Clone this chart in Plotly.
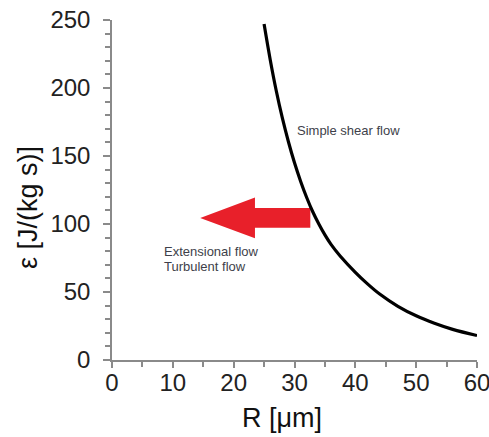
import plotly.graph_objects as go

# Curve data
R_um = [25, 26, 27, 28, 29, 30, 31, 32, 33, 34, 35, 36, 37.5, 40, 42, 44, 47, 50, 53, 56, 60]
eps = [247, 221, 198, 178, 160.5, 145, 131.5, 119.5, 109, 100, 92, 85, 76.5, 64.5, 56, 48.5, 39.5, 32.5, 27, 22.5, 18]

# Arrow outline (data coordinates)
arrow_x = [14.5, 23.5, 23.5, 32.6, 32.6, 23.5, 23.5, 14.5]
arrow_y = [104.4, 119.5, 111.8, 111.8, 97.2, 97.2, 89.5, 104.4]

# Labels
x_ticks = [0, 10, 20, 30, 40, 50, 60]
y_ticks = [0, 50, 100, 150, 200, 250]
x_title = "R [μm]"
y_title = "ε [J/(kg s)]"

FONT = "Arial, 'Liberation Sans', sans-serif"
AXC = "#8a8a8a"

fig = go.Figure()
fig.add_trace(go.Scatter(x=arrow_x, y=arrow_y, mode="lines", fill="toself",
                         fillcolor="#e8202a", line=dict(color="#e8202a", width=0),
                         hoverinfo="skip", showlegend=False))
fig.add_trace(go.Scatter(x=R_um, y=eps, mode="lines", line=dict(color="black", width=3.2, shape="spline"),
                         showlegend=False, cliponaxis=False))

txtc = "#3e3f4a"
fig.add_annotation(x=30.1, y=169, text="Simple shear flow", showarrow=False, xanchor="left",
                   font=dict(family=FONT, size=13, color=txtc))
fig.add_annotation(x=8.2, y=79.5, text="Extensional flow", showarrow=False, xanchor="left",
                   font=dict(family=FONT, size=13, color=txtc))
fig.add_annotation(x=8.2, y=68.5, text="Turbulent flow", showarrow=False, xanchor="left",
                   font=dict(family=FONT, size=13, color=txtc))

# Axis titles as annotations for exact placement
fig.add_annotation(xref="paper", yref="paper", x=-0.23, y=0.447, text=y_title, textangle=-90,
                   showarrow=False, xanchor="center", yanchor="middle",
                   font=dict(family=FONT, size=27, color="#111"))
fig.add_annotation(xref="paper", yref="paper", x=0.466, y=-0.17, text=x_title,
                   showarrow=False, xanchor="center", yanchor="middle",
                   font=dict(family=FONT, size=27, color="#111"))

fig.update_xaxes(range=[0, 60], tickvals=x_ticks, ticks="outside", ticklen=6, tickwidth=1.5,
                 tickcolor=AXC, showline=True, linecolor=AXC, linewidth=1.5, showgrid=False,
                 zeroline=False, tickfont=dict(family=FONT, size=24, color="#222"),
                 ticklabeloverflow="allow", ticklabelstandoff=-6, automargin=False,
                 minor=dict(dtick=5, ticks="outside", ticklen=5, tickcolor=AXC, tickwidth=1.5, showgrid=False))
fig.update_yaxes(range=[0, 250], tickvals=y_ticks, ticks="outside", ticklen=7, tickwidth=1.5,
                 tickcolor=AXC, showline=True, linecolor=AXC, linewidth=1.5, showgrid=False,
                 zeroline=False, tickfont=dict(family=FONT, size=24, color="#222"),
                 ticklabelstandoff=8, ticklabeloverflow="allow", automargin=False,
                 minor=dict(dtick=10, ticks="outside", ticklen=5, tickcolor=AXC, tickwidth=1.5, showgrid=False))

fig.update_layout(width=489, height=437, margin=dict(l=112, r=12, t=20, b=77),
                  plot_bgcolor="white", paper_bgcolor="white")
fig.write_html("out.html", config={"displayModeBar": False},
               post_script="document.body.style.margin='0px';")
